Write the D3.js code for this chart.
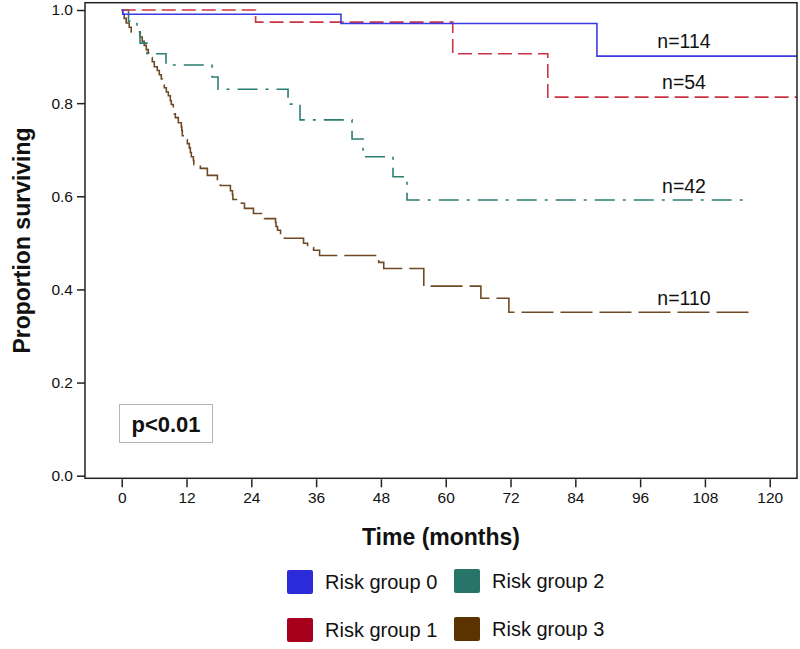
<!DOCTYPE html>
<html>
<head>
<meta charset="utf-8">
<script src="https://cdn.jsdelivr.net/npm/d3@7/dist/d3.min.js"></script>
<style>
  html, body { margin: 0; padding: 0; background: #fff; }
  svg { display: block; font-family: "Liberation Sans", Arial, Helvetica, sans-serif; }
</style>
</head>
<body>
<svg id="chart" width="800" height="649"></svg>
<script>
// ---- data ----
const group0Months = [0, 0.2, 40.6, 88.0, 126];
const group0Surv   = [1.0, 0.991, 0.971, 0.901, 0.901];

const group1Months = [0, 24.8, 61.3, 78.9, 126];
const group1Surv   = [1.0, 0.974, 0.906, 0.813, 0.813];

const group2Months = [0, 1.26, 2.83, 3.39, 4.69, 8.20, 16.72, 17.83, 30.80, 33.02, 42.65, 44.69, 50.24, 52.83, 115.4];
const group2Surv   = [1.0, 0.976, 0.953, 0.929, 0.906, 0.882, 0.856, 0.830, 0.798, 0.764, 0.723, 0.685, 0.642, 0.592, 0.592];

const group3Months = [0, 0.19, 0.46, 0.83, 1.39, 1.76, 3.43, 3.80, 4.17, 4.55, 4.92, 5.29, 5.66, 6.03, 6.59, 6.96,
  7.33, 7.51, 7.88, 8.26, 8.63, 9.00, 9.18, 9.55, 9.74, 9.93, 10.48, 11.04, 11.13, 11.22, 11.97, 12.15, 12.52,
  12.71, 12.89, 13.27, 13.36, 14.56, 15.86, 17.72, 18.27, 20.13, 20.50, 20.59, 22.17, 22.73, 24.40, 26.44, 28.48,
  28.57, 28.85, 29.41, 30.15, 33.67, 34.42, 35.53, 36.64, 47.59, 48.52, 55.94, 66.51, 71.70, 116.3];
const group3Surv = [1.0, 0.991, 0.982, 0.972, 0.963, 0.953, 0.942, 0.933, 0.924, 0.915, 0.907, 0.898, 0.889, 0.878,
  0.870, 0.861, 0.852, 0.844, 0.833, 0.824, 0.816, 0.805, 0.797, 0.788, 0.777, 0.769, 0.758, 0.749, 0.741, 0.730,
  0.722, 0.713, 0.704, 0.694, 0.685, 0.677, 0.668, 0.660, 0.645, 0.634, 0.623, 0.612, 0.604, 0.593, 0.585, 0.574,
  0.563, 0.552, 0.544, 0.535, 0.527, 0.516, 0.510, 0.499, 0.490, 0.484, 0.473, 0.458, 0.445, 0.407, 0.381, 0.351, 0.351];

const groupNames = ["Risk group 0", "Risk group 1", "Risk group 2", "Risk group 3"];
const groupN = ["n=114", "n=54", "n=42", "n=110"];
const xTicks = [0, 12, 24, 36, 48, 60, 72, 84, 96, 108, 120];
const yTicks = [0.0, 0.2, 0.4, 0.6, 0.8, 1.0];
const pValueText = "p<0.01";

// ---- styles ----
const lineColors   = ["#3b3be6", "#cc3344", "#2a7d72", "#6e4a24"];
const swatchColors = ["#2b2bd9", "#a8001c", "#267568", "#5a3300"];
const dashes = [null, "14,6", "20,8,3,8", "32,7"];

const svg = d3.select("#chart");
const L = 85, R = 797, T = 2.7, B = 478.3;
const x = d3.scaleLinear().domain([-6.8, 125.05]).range([L, R]);
const y = d3.scaleLinear().domain([-0.0056, 1.0157]).range([B, T]);

svg.append("defs").append("clipPath").attr("id", "plotclip")
  .append("rect").attr("x", L).attr("y", T).attr("width", R - L).attr("height", B - T);

// curves
const series = [
  {m: group0Months, s: group0Surv},
  {m: group1Months, s: group1Surv},
  {m: group2Months, s: group2Surv},
  {m: group3Months, s: group3Surv}
];
const line = d3.line().x(d => x(d[0])).y(d => y(d[1])).curve(d3.curveStepAfter);
const gCurves = svg.append("g").attr("clip-path", "url(#plotclip)");
[3, 2, 1, 0].forEach(i => {
  const pts = series[i].m.map((m, k) => [m, series[i].s[k]]);
  gCurves.append("path")
    .attr("d", line(pts))
    .attr("fill", "none")
    .attr("stroke", lineColors[i])
    .attr("stroke-width", 1.6)
    .attr("stroke-dasharray", dashes[i]);
});

// frame
svg.append("rect").attr("x", L).attr("y", T).attr("width", R - L).attr("height", B - T)
  .attr("fill", "none").attr("stroke", "#222").attr("stroke-width", 1.5);

// y axis
const yAxis = svg.append("g").attr("transform", `translate(${L},0)`)
  .call(d3.axisLeft(y).tickValues(yTicks).tickFormat(d3.format(".1f")).tickSize(8).tickPadding(4));
yAxis.select(".domain").remove();
yAxis.selectAll("line").attr("stroke", "#222").attr("stroke-width", 1.5);
yAxis.selectAll("text").attr("font-size", "15.5px").attr("fill", "#111")
  .attr("font-family", "Liberation Sans, Arial, sans-serif");

// x axis
const xAxis = svg.append("g").attr("transform", `translate(0,${B + 1})`)
  .call(d3.axisBottom(x).tickValues(xTicks).tickSize(8).tickPadding(5));
xAxis.select(".domain").remove();
xAxis.selectAll("line").attr("stroke", "#222").attr("stroke-width", 1.5);
xAxis.selectAll("text").attr("font-size", "15.5px").attr("fill", "#111")
  .attr("font-family", "Liberation Sans, Arial, sans-serif");

// axis titles
svg.append("text").attr("x", (L + R) / 2).attr("y", 545).attr("text-anchor", "middle")
  .attr("font-size", "23px").attr("font-weight", "bold").attr("fill", "#111").text("Time (months)");
svg.append("text").attr("transform", `translate(30,${(T + B) / 2}) rotate(-90)`).attr("text-anchor", "middle")
  .attr("font-size", "23px").attr("font-weight", "bold").attr("fill", "#111").text("Proportion surviving");

// n labels
const nLabelY = [47.5, 89.3, 193.3, 305];
groupN.forEach((t, i) => {
  svg.append("text").attr("x", 684).attr("y", nLabelY[i]).attr("text-anchor", "middle")
    .attr("font-size", "19.5px").attr("fill", "#111").text(t);
});

// p value box
svg.append("rect").attr("x", 119.5).attr("y", 404.5).attr("width", 93).attr("height", 38)
  .attr("fill", "#fff").attr("stroke", "#b5b5b5").attr("stroke-width", 1);
svg.append("text").attr("x", 166).attr("y", 432).attr("text-anchor", "middle")
  .attr("font-size", "22px").attr("font-weight", "bold").attr("fill", "#111").text(pValueText);

// legend
const legendPos = [[287, 570], [287, 618], [454, 569], [454, 617]];
groupNames.forEach((name, i) => {
  const [lx, ly] = legendPos[i];
  svg.append("rect").attr("x", lx).attr("y", ly).attr("width", 26).attr("height", 24).attr("rx", 2)
    .attr("fill", swatchColors[i]);
  svg.append("text").attr("x", lx + 38).attr("y", ly + 19).attr("font-size", "20px").attr("fill", "#111")
    .text(name);
});
</script>
</body>
</html>
